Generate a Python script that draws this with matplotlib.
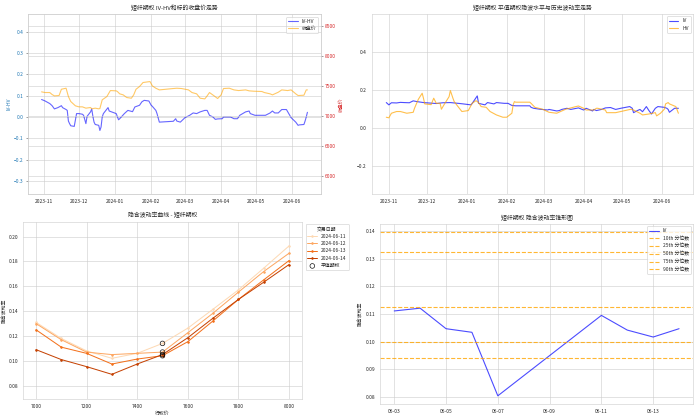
import matplotlib
matplotlib.use("Agg")
import matplotlib.pyplot as plt
import matplotlib.dates as mdates
import matplotlib.ticker as mticker
import seaborn as sns
import pandas as pd
import numpy as np

sns.set_style("whitegrid")
plt.rcParams['font.family'] = ['Noto Sans CJK SC', 'DejaVu Sans']
plt.rcParams['axes.unicode_minus'] = True

# ---------------- data: top-left (IV-HV and close) ----------------
ivhv_dates = ["2023-10-30","2023-11-02","2023-11-06","2023-11-08","2023-11-10","2023-11-13","2023-11-15",
              "2023-11-16","2023-11-17","2023-11-20","2023-11-21","2023-11-22","2023-11-23","2023-11-24",
              "2023-11-27","2023-11-29","2023-12-01","2023-12-04","2023-12-05","2023-12-07","2023-12-08",
              "2023-12-11","2023-12-12","2023-12-13","2023-12-14","2023-12-15","2023-12-18","2023-12-19",
              "2023-12-20","2023-12-21","2023-12-22","2023-12-26","2023-12-27","2023-12-29","2024-01-02",
              "2024-01-04","2024-01-05","2024-01-09","2024-01-12","2024-01-16","2024-01-18","2024-01-22",
              "2024-01-24","2024-01-26","2024-01-30","2024-02-01","2024-02-02","2024-02-05","2024-02-06",
              "2024-02-08","2024-02-20","2024-02-22","2024-02-23","2024-02-26","2024-03-01","2024-03-05",
              "2024-03-08","2024-03-11","2024-03-14","2024-03-18","2024-03-20","2024-03-22","2024-03-25",
              "2024-03-27","2024-03-29","2024-04-02","2024-04-03","2024-04-09","2024-04-12","2024-04-15",
              "2024-04-17","2024-04-22","2024-04-25","2024-04-26","2024-04-30","2024-05-06","2024-05-09",
              "2024-05-13","2024-05-15","2024-05-17","2024-05-20","2024-05-23","2024-05-27","2024-05-29",
              "2024-05-31","2024-06-04","2024-06-06","2024-06-07","2024-06-11","2024-06-12","2024-06-13",
              "2024-06-14"]
ivhv_values = [0.082,0.075,0.063,0.053,0.038,0.044,0.050,
               0.053,0.044,0.035,0.031,-0.019,-0.031,-0.041,
               -0.044,0.016,0.016,0.013,0.008,-0.031,0.003,
               0.024,0.038,0.003,-0.024,-0.035,-0.039,-0.063,
               -0.047,0.000,0.016,0.044,0.028,0.024,0.016,
               -0.013,-0.008,0.016,0.031,0.025,0.047,0.055,
               0.071,0.078,0.075,0.055,0.050,0.031,0.016,
               -0.024,-0.020,-0.008,-0.019,-0.024,-0.003,0.008,
               0.019,0.016,0.024,0.031,0.031,0.008,0.000,
               -0.011,-0.009,-0.008,0.000,0.000,-0.008,-0.008,
               0.008,0.024,0.028,0.016,0.008,0.008,0.008,
               0.019,0.028,0.019,0.019,0.035,0.035,0.016,
               -0.003,-0.024,-0.039,-0.037,-0.035,-0.019,0.000,
               0.022]

close_dates = ["2023-10-30","2023-11-02","2023-11-06","2023-11-08","2023-11-10","2023-11-14","2023-11-16",
               "2023-11-20","2023-11-22","2023-11-24","2023-11-28","2023-12-01","2023-12-04","2023-12-07",
               "2023-12-11","2023-12-12","2023-12-15","2023-12-18","2023-12-19","2023-12-21","2023-12-25",
               "2023-12-27","2023-12-28","2024-01-02","2024-01-03","2024-01-05","2024-01-08","2024-01-11",
               "2024-01-15","2024-01-17","2024-01-19","2024-01-22","2024-01-25","2024-01-29","2024-01-31",
               "2024-02-02","2024-02-05","2024-02-08","2024-02-20","2024-02-23","2024-02-27","2024-03-04",
               "2024-03-07","2024-03-11","2024-03-14","2024-03-18","2024-03-20","2024-03-22","2024-03-26",
               "2024-03-29","2024-04-01","2024-04-03","2024-04-08","2024-04-12","2024-04-16","2024-04-22",
               "2024-04-25","2024-04-29","2024-05-06","2024-05-08","2024-05-13","2024-05-15","2024-05-20",
               "2024-05-23","2024-05-28","2024-05-31","2024-06-04","2024-06-06","2024-06-11","2024-06-13",
               "2024-06-14"]
close_values = [7400,7389,7389,7356,7333,7339,7444,
                7461,7322,7239,7167,7150,7150,7128,
                7139,7117,7128,7117,7122,7267,7322,
                7389,7422,7417,7406,7367,7350,7306,
                7294,7350,7444,7489,7556,7567,7572,
                7500,7461,7433,7456,7461,7456,7433,
                7389,7367,7294,7283,7333,7389,7333,
                7289,7350,7456,7461,7433,7422,7433,
                7417,7411,7406,7389,7367,7350,7394,
                7433,7422,7433,7367,7339,7344,7433,
                7433]

# ---------------- data: top-right (IV and HV) ----------------
iv_dates = ["2023-10-30","2023-11-01","2023-11-03","2023-11-07","2023-11-10","2023-11-13","2023-11-17",
            "2023-11-20","2023-11-23","2023-11-28","2023-12-04","2023-12-08","2023-12-13","2023-12-19",
            "2023-12-25","2023-12-29","2024-01-04","2024-01-05","2024-01-09","2024-01-10","2024-01-15",
            "2024-01-17","2024-01-22","2024-01-24","2024-01-30","2024-02-02","2024-02-05","2024-02-08",
            "2024-02-19","2024-02-20","2024-02-22","2024-02-27","2024-03-04","2024-03-05","2024-03-11",
            "2024-03-13","2024-03-15","2024-03-19","2024-03-22","2024-03-28","2024-04-01","2024-04-03",
            "2024-04-08","2024-04-09","2024-04-11","2024-04-15","2024-04-18","2024-04-22","2024-04-26",
            "2024-04-30","2024-05-07","2024-05-09","2024-05-10","2024-05-13","2024-05-15","2024-05-17",
            "2024-05-20","2024-05-22","2024-05-24","2024-05-27","2024-05-29","2024-06-03","2024-06-05",
            "2024-06-06","2024-06-07","2024-06-11","2024-06-13","2024-06-14"]
iv_values = [0.135,0.123,0.134,0.133,0.136,0.135,0.134,
             0.144,0.140,0.135,0.132,0.130,0.134,0.135,
             0.131,0.128,0.123,0.130,0.170,0.131,0.123,
             0.135,0.128,0.135,0.131,0.131,0.120,0.118,
             0.118,0.110,0.105,0.100,0.096,0.099,0.091,
             0.093,0.099,0.105,0.099,0.107,0.096,0.105,
             0.091,0.099,0.093,0.099,0.107,0.109,0.099,
             0.105,0.114,0.105,0.082,0.093,0.099,0.087,
             0.114,0.093,0.075,0.105,0.114,0.110,0.105,
             0.099,0.084,0.105,0.105,0.105]

hv_dates = ["2023-10-30","2023-11-01","2023-11-03","2023-11-07","2023-11-10","2023-11-15","2023-11-20",
            "2023-11-21","2023-11-24","2023-11-27","2023-11-28","2023-11-29","2023-12-04","2023-12-06",
            "2023-12-08","2023-12-11","2023-12-12","2023-12-14","2023-12-18","2023-12-19","2023-12-21",
            "2023-12-22","2023-12-26","2023-12-28","2024-01-02","2024-01-05","2024-01-08","2024-01-10",
            "2024-01-12","2024-01-16","2024-01-19","2024-01-24","2024-01-29","2024-02-01","2024-02-05",
            "2024-02-06","2024-02-07","2024-02-08","2024-02-19","2024-02-20","2024-02-22","2024-02-23",
            "2024-02-29","2024-03-05","2024-03-11","2024-03-14","2024-03-18","2024-03-21","2024-03-26",
            "2024-03-28","2024-04-01","2024-04-03","2024-04-09","2024-04-11","2024-04-12","2024-04-18",
            "2024-04-19","2024-04-26","2024-04-30","2024-05-08","2024-05-10","2024-05-15","2024-05-17",
            "2024-05-22","2024-05-27","2024-05-28","2024-05-31","2024-06-03","2024-06-04","2024-06-06",
            "2024-06-07","2024-06-12","2024-06-14"]
hv_values = [0.058,0.055,0.079,0.088,0.088,0.079,0.084,
             0.105,0.152,0.184,0.158,0.128,0.124,0.158,
             0.131,0.131,0.100,0.123,0.166,0.198,0.158,
             0.140,0.105,0.088,0.093,0.131,0.145,0.135,
             0.114,0.110,0.088,0.070,0.058,0.058,0.079,
             0.123,0.140,0.137,0.137,0.131,0.117,0.110,
             0.100,0.084,0.079,0.088,0.100,0.105,0.114,
             0.117,0.105,0.096,0.096,0.105,0.105,0.096,
             0.082,0.082,0.088,0.100,0.096,0.079,0.070,
             0.075,0.082,0.065,0.079,0.100,0.128,0.135,
             0.128,0.114,0.079]

# ---------------- data: bottom-left (smile) ----------------
strikes = [7000, 7100, 7200, 7300, 7400, 7500, 7600, 7700, 7800, 7900, 8000]
smile_dates = ["2024-06-11", "2024-06-12", "2024-06-13", "2024-06-14"]
smile_iv = [
    [0.131, 0.118, 0.108, 0.102, 0.106, 0.114, 0.1263, 0.1416, 0.1571, 0.1746, 0.1925],
    [0.130, 0.117, 0.107, 0.105, 0.106, 0.107, 0.1226, 0.1384, 0.1553, 0.1719, 0.1866],
    [0.125, 0.111, 0.106, 0.0974, 0.1014, 0.1041, 0.1154, 0.1322, 0.1494, 0.1652, 0.1807],
    [0.109, 0.101, 0.0953, 0.0891, 0.0974, 0.1050, 0.1186, 0.1344, 0.1494, 0.1633, 0.1775],
]
atm_strike = 7500

# ---------------- data: bottom-right (cone) ----------------
cone_dates = ["2024-06-03","2024-06-04","2024-06-05","2024-06-06","2024-06-07",
              "2024-06-11","2024-06-12","2024-06-13","2024-06-14"]
cone_iv = [0.1111, 0.1121, 0.1047, 0.1034, 0.0805, 0.1095, 0.1042, 0.1017, 0.1047]
quantile_labels = ["10th", "25th", "50th", "75th", "90th"]
quantile_values = [0.0940, 0.1000, 0.1124, 0.1325, 0.1395]

# ---------------- figure ----------------
W, H = 700, 419
fig = plt.figure(figsize=(14, 8.38), dpi=50)
FS = 7
TFS = 8.5

def pos(x0, y0, x1, y1):
    return [x0 / W, (H - y1) / H, (x1 - x0) / W, (y1 - y0) / H]

def fmt(n):
    return mticker.FuncFormatter(lambda v, p: (f'{v:.{n}f}').replace('-', '\u2212'))

lw = 1.6

# ---- top-left ----
ax1 = fig.add_axes(pos(28.3, 14.3, 320.7, 194.3))
ax2 = ax1.twinx()
d1 = pd.to_datetime(ivhv_dates)
d2 = pd.to_datetime(close_dates)
l1, = ax1.plot(d1, ivhv_values, color='blue', alpha=0.6, lw=lw, label='IV-HV')
l2, = ax2.plot(d2, close_values, color='orange', alpha=0.6, lw=lw, label='收盘价')
ax1.set_ylim(-0.362, 0.481)
ax2.set_ylim(5690, 8695)
ax1.set_yticks([-0.3, -0.2, -0.1, 0.0, 0.1, 0.2, 0.3, 0.4])
ax1.yaxis.set_major_formatter(fmt(1))
ax2.set_yticks([6000, 6500, 7000, 7500, 8000, 8500])
ax1.set_ylabel('IV-HV', color='tab:blue', fontsize=FS)
ax2.set_ylabel('收盘价', color='tab:red', fontsize=FS)
ax1.tick_params(axis='y', labelcolor='tab:blue', labelsize=FS, length=3, width=0.8,
                color='#555555', left=True)
ax2.tick_params(axis='y', labelcolor='tab:red', labelsize=FS, length=3, width=0.8,
                color='#555555', right=True)
ax1.tick_params(axis='x', labelsize=FS)
ax1.xaxis.set_major_locator(mdates.MonthLocator())
ax1.xaxis.set_major_formatter(mdates.DateFormatter('%Y-%m'))
ax1.set_title('短纤期权 IV-HV和标的收盘价走势', fontsize=TFS)
ax1.legend(handles=[l1, l2], loc='upper right', fontsize=FS)

# ---- top-right ----
ax3 = fig.add_axes(pos(371.7, 14.0, 693.0, 194.0))
ax3.plot(pd.to_datetime(iv_dates), iv_values, color='blue', alpha=0.7, lw=lw, label='IV')
ax3.plot(pd.to_datetime(hv_dates), hv_values, color='orange', alpha=0.7, lw=lw, label='HV')
ax3.set_ylim(-0.345, 0.60)
ax3.set_yticks([-0.2, 0.0, 0.2, 0.4])
ax3.yaxis.set_major_formatter(fmt(1))
ax3.xaxis.set_major_locator(mdates.MonthLocator())
ax3.xaxis.set_major_formatter(mdates.DateFormatter('%Y-%m'))
ax3.tick_params(labelsize=FS)
ax3.set_title('短纤期权 平值期权隐波水平与历史波动率走势', fontsize=TFS)
ax3.legend(loc='upper right', fontsize=FS)

# ---- bottom-left ----
ax4 = fig.add_axes(pos(23.3, 221.7, 301.7, 399.3))
cols = sns.color_palette("Oranges", len(smile_dates))
atm_idx = strikes.index(atm_strike)
for i, d in enumerate(smile_dates):
    ax4.plot(strikes, smile_iv[i], color=cols[i], lw=lw * 0.9, marker='o', markersize=2.5, label=d)
atm_vals = [row[atm_idx] for row in smile_iv]
ax4.scatter([atm_strike] * len(atm_vals), atm_vals, s=45, facecolors='none', edgecolors='black',
            linewidths=0.9, zorder=5, label='平值期权')
ax4.set_ylim(0.069, 0.212)
ax4.set_yticks([0.08, 0.10, 0.12, 0.14, 0.16, 0.18, 0.20])
ax4.yaxis.set_major_formatter(fmt(2))
ax4.set_xticks([7000, 7200, 7400, 7600, 7800, 8000])
ax4.tick_params(labelsize=FS)
ax4.set_xlabel('行权价', fontsize=FS, labelpad=2)
ax4.set_ylabel('隐含波动率', fontsize=FS)
ax4.set_title('隐含波动率曲线 - 短纤期权', fontsize=TFS)
ax4.legend(title='交易日期', loc='upper left', bbox_to_anchor=(1.005, 1.0), fontsize=FS,
           title_fontsize=FS)

# ---- bottom-right ----
ax5 = fig.add_axes(pos(380.0, 224.0, 693.3, 404.0))
ax5.plot(pd.to_datetime(cone_dates), cone_iv, color='blue', alpha=0.7, lw=lw, label='IV')
for lab, q in zip(quantile_labels, quantile_values):
    ax5.axhline(q, color='orange', alpha=0.8, ls='--', lw=lw, label=f'{lab} 分位数')
ax5.xaxis.set_major_locator(mdates.DayLocator(bymonthday=[3, 5, 7, 9, 11, 13]))
ax5.xaxis.set_major_formatter(mdates.DateFormatter('%m-%d'))
ax5.yaxis.set_major_formatter(fmt(2))
ax5.tick_params(labelsize=FS)
ax5.set_ylabel('隐含波动率', fontsize=FS)
ax5.set_title('短纤期权 隐含波动率锥形图', fontsize=TFS)
ax5.legend(loc='upper right', fontsize=FS)

fig.savefig('out.png', dpi=50)
